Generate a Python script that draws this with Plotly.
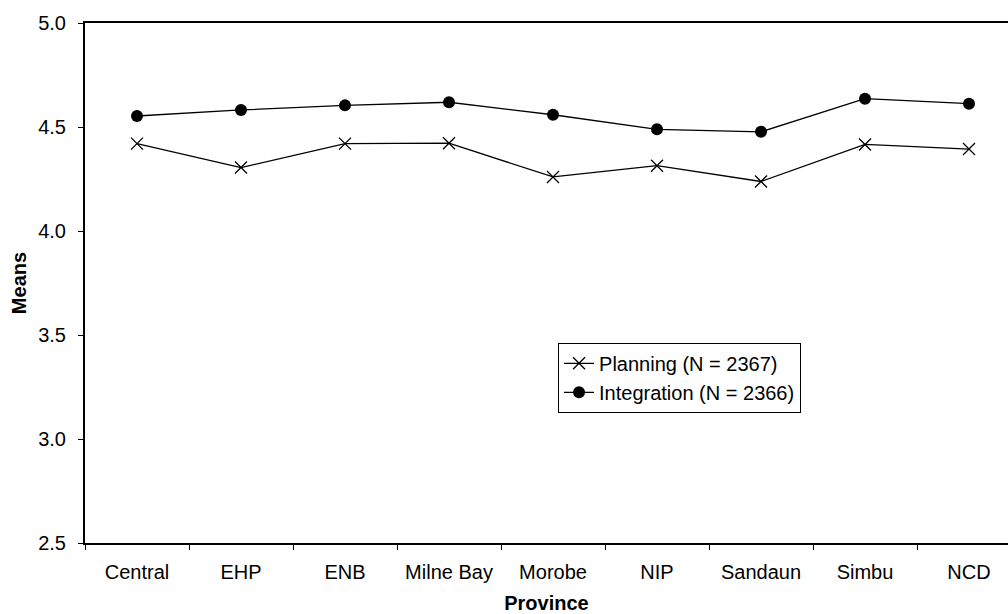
import plotly.graph_objects as go

provinces = ["Central", "EHP", "ENB", "Milne Bay", "Morobe", "NIP", "Sandaun", "Simbu", "NCD"]
planning = [4.42, 4.305, 4.42, 4.422, 4.26, 4.314, 4.238, 4.416, 4.394]
integration = [4.553, 4.582, 4.604, 4.619, 4.559, 4.489, 4.477, 4.636, 4.612]

font_family = "Liberation Sans, Arial, sans-serif"

fig = go.Figure()
fig.add_trace(go.Scatter(
    x=provinces, y=planning, mode="lines+markers",
    name="Planning (N = 2367)",
    line=dict(color="black", width=1.3),
    marker=dict(symbol="x-thin-open", size=12, line=dict(color="black", width=1.3)),
))
fig.add_trace(go.Scatter(
    x=provinces, y=integration, mode="lines+markers",
    name="Integration (N = 2366)",
    line=dict(color="black", width=1.3),
    marker=dict(symbol="circle", size=12, color="black"),
))

fig.update_layout(
    width=1008, height=614,
    margin=dict(l=85, r=0, t=23, b=71),
    paper_bgcolor="white", plot_bgcolor="white",
    font=dict(family=font_family, size=20, color="black"),
    showlegend=True,
    legend=dict(
        x=0.5125, y=0.385, xanchor="left", yanchor="top",
        bordercolor="black", borderwidth=1, bgcolor="white",
        font=dict(size=20), tracegroupgap=0,
    ),
)

fig.update_xaxes(
    type="category", range=[-0.5, 8.375], automargin=False,
    showline=True, linecolor="black", linewidth=2, mirror=True,
    ticks="outside", tickson="boundaries", ticklen=5, tickcolor="black",
    ticklabelstandoff=10,
    showgrid=False, zeroline=False,
    title=dict(text="<b>Province</b>", font=dict(size=20), standoff=19),
)
fig.update_yaxes(
    range=[2.5, 5.0], dtick=0.5, tickformat=".1f",
    showline=True, linecolor="black", linewidth=2,
    ticks="outside", ticklen=5, tickcolor="black",
    ticklabelstandoff=8,
    showgrid=False, zeroline=False,
    title=dict(text="<b>Means</b>", font=dict(size=20), standoff=6),
)

fig.write_html("out.html")
